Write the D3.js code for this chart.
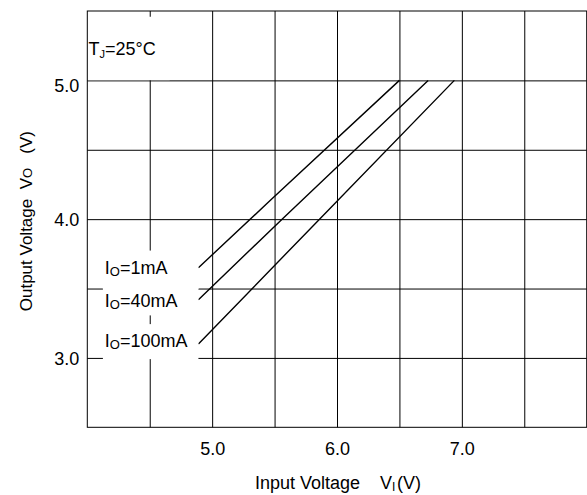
<!DOCTYPE html>
<html>
<head>
<meta charset="utf-8">
<script src="https://cdn.jsdelivr.net/npm/d3@7"></script>
<style>
  html, body { margin: 0; padding: 0; background: #fff; }
  svg { display: block; }
  text { font-family: "Liberation Sans", Arial, sans-serif; fill: #000; }
</style>
</head>
<body>
<svg id="chart" width="587" height="495"></svg>
<script>
// ---- data ----
const xDomain = [4.0, 8.0];
const yDomain = [2.5, 5.5];
const xGridValues = [4.5, 5.0, 5.5, 6.0, 6.5, 7.0, 7.5];
const yGridValues = [3.0, 3.5, 4.0, 4.5, 5.0];
const xTickLabels = [5.0, 6.0, 7.0];
const yTickLabels = [3.0, 4.0, 5.0];
const seriesNames = ["1mA", "40mA", "100mA"];
const vin1mA = [4.89, 5.46, 6.50];
const vo1mA = [3.65, 4.13, 5.00];
const vin40mA = [4.89, 5.56, 6.73];
const vo40mA = [3.42, 4.00, 5.00];
const vin100mA = [4.89, 5.86, 6.94];
const vo100mA = [3.10, 4.00, 5.00];

// ---- layout ----
const W = 587, H = 495;
const plot = { left: 87.3, right: 586.7, top: 11, bottom: 427.3 };
const fontSize = 18;

const svg = d3.select("#chart");
const x = d3.scaleLinear().domain(xDomain).range([plot.left, plot.right]);
const y = d3.scaleLinear().domain(yDomain).range([plot.bottom, plot.top]);

// grid via axes
const gx = svg.append("g")
  .attr("transform", `translate(0,${plot.bottom})`)
  .call(d3.axisBottom(x).tickValues(xGridValues).tickSize(-(plot.bottom - plot.top)).tickFormat(""));
const gy = svg.append("g")
  .attr("transform", `translate(${plot.left},0)`)
  .call(d3.axisLeft(y).tickValues(yGridValues).tickSize(-(plot.right - plot.left)).tickFormat(""));
[gx, gy].forEach(g => {
  g.select(".domain").remove();
  g.selectAll(".tick line").attr("stroke", "#000").attr("stroke-width", 1);
});

// tick labels
const lx = svg.append("g")
  .attr("transform", `translate(0,${plot.bottom})`)
  .call(d3.axisBottom(x).tickValues(xTickLabels).tickSize(0).tickPadding(0).tickFormat(d3.format(".1f")));
lx.select(".domain").remove();
lx.selectAll("text").attr("font-size", fontSize).attr("font-family", null)
  .attr("dy", null).attr("y", 28);

const ly = svg.append("g")
  .attr("transform", `translate(${plot.left},0)`)
  .call(d3.axisLeft(y).tickValues(yTickLabels).tickSize(0).tickPadding(0).tickFormat(d3.format(".1f")));
ly.select(".domain").remove();
ly.selectAll("text").attr("font-size", fontSize).attr("font-family", null)
  .attr("x", -8).attr("dy", d => d === 5.0 ? "0.62em" : "0.35em");

// curves
const series = [
  { name: seriesNames[0], vin: vin1mA, vo: vo1mA },
  { name: seriesNames[1], vin: vin40mA, vo: vo40mA },
  { name: seriesNames[2], vin: vin100mA, vo: vo100mA }
];
const line = d3.line().x(d => x(d[0])).y(d => y(d[1]));
svg.append("g").selectAll("path").data(series).join("path")
  .attr("d", s => line(s.vin.map((v, i) => [v, s.vo[i]])))
  .attr("fill", "none").attr("stroke", "#000").attr("stroke-width", 1.4);

// label backgrounds (white boxes over the grid)
const boxX0 = 4.125, boxX1 = vin1mA[0];
const boxes = [
  [boxX0, boxX1, 3.77, 3.50],
  [boxX0, boxX1, 3.50, 3.31],
  [boxX0, boxX1, 3.24, 2.995],
  [4.005, 4.66, 5.455, 5.005]
];
svg.append("g").selectAll("rect").data(boxes).join("rect")
  .attr("x", d => x(d[0])).attr("width", d => x(d[1]) - x(d[0]))
  .attr("y", d => y(d[2]) - 0.5).attr("height", d => y(d[3]) - y(d[2]) + 1)
  .attr("fill", "#fff");

// frame
svg.append("rect")
  .attr("x", plot.left).attr("y", plot.top)
  .attr("width", plot.right - plot.left).attr("height", plot.bottom - plot.top)
  .attr("fill", "none").attr("stroke", "#000").attr("stroke-width", 1);

// series labels
const labelY = [3.603, 3.37, 3.081];
series.forEach((s, i) => {
  const t = svg.append("text").attr("x", x(4.14)).attr("y", y(labelY[i]))
    .attr("font-size", fontSize);
  t.append("tspan").text("I");
  t.append("tspan").attr("font-size", 13).attr("dy", 2).text("O");
  t.append("tspan").attr("dy", -2).text("=" + s.name);
});

// Tj label
const tj = svg.append("text").attr("x", x(4.01)).attr("y", y(5.18)).attr("font-size", fontSize);
tj.append("tspan").text("T");
tj.append("tspan").attr("font-size", 11).attr("dy", 3).text("J");
tj.append("tspan").attr("dy", -3).text("=25°C");

// axis titles
const xt = svg.append("text").attr("x", 255).attr("y", 489).attr("font-size", 18);
xt.append("tspan").text("Input Voltage\u00a0\u00a0\u00a0\u00a0V");
xt.append("tspan").attr("font-size", 12).attr("dy", 2).text("I");
xt.append("tspan").attr("dy", -2).text("\u200a(V)");

const yt = svg.append("text")
  .attr("transform", `translate(32,${(plot.top + plot.bottom) / 2 + 2}) rotate(-90)`)
  .attr("text-anchor", "middle").attr("font-size", 17);
yt.append("tspan").text("Output Voltage\u00a0\u00a0V");
yt.append("tspan").attr("font-size", 13).text("O");
yt.append("tspan").text("\u00a0\u00a0\u00a0(V)");
</script>
</body>
</html>
